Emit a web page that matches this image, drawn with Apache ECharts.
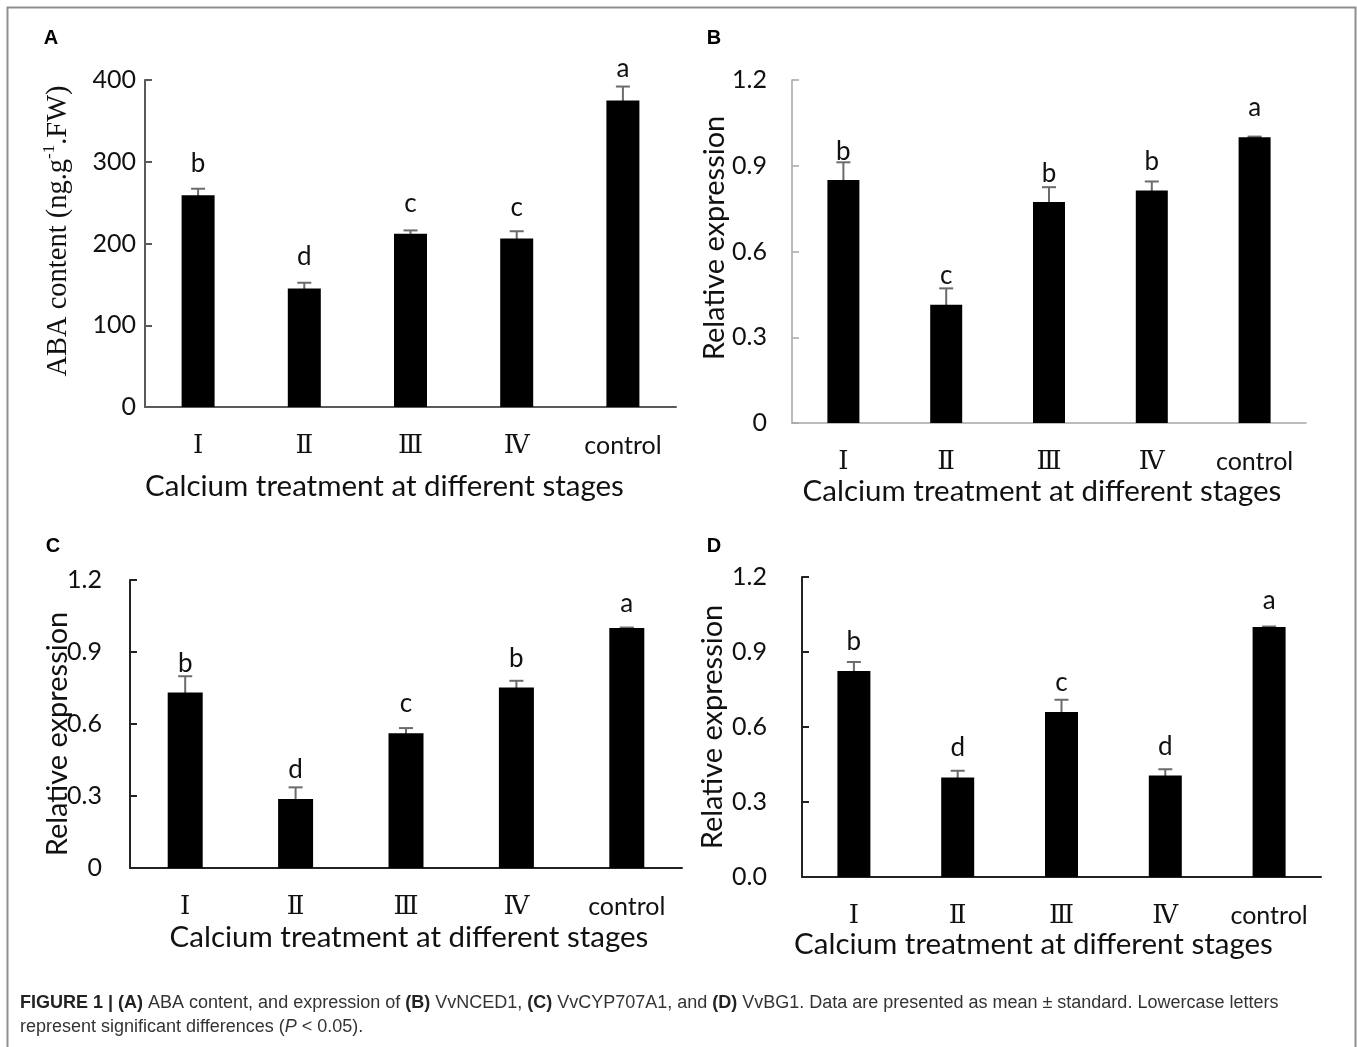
<!DOCTYPE html>
<html><head><meta charset="utf-8">
<script src="https://cdn.jsdelivr.net/npm/echarts@6/dist/echarts.min.js"></script>
<style>html,body{margin:0;padding:0;background:#fff}#c{width:1357px;height:1047px}</style>
</head><body><div id="c"></div>
<script>
// ---------- data ----------
const categories = ['Ⅰ', 'Ⅱ', 'Ⅲ', 'Ⅳ', 'control'];
const abaValues = [259, 145, 212, 206, 375];
const abaErrors = [8, 7, 4, 9, 17];
const abaLetters = ['b', 'd', 'c', 'c', 'a'];
const ncedValues = [0.850, 0.414, 0.773, 0.813, 1.0];
const ncedErrors = [0.062, 0.057, 0.052, 0.032, 0.002];
const ncedLetters = ['b', 'c', 'b', 'b', 'a'];
const cypValues = [0.731, 0.288, 0.561, 0.752, 1.0];
const cypErrors = [0.068, 0.048, 0.022, 0.028, 0.002];
const cypLetters = ['b', 'd', 'c', 'b', 'a'];
const bgValues = [0.824, 0.398, 0.660, 0.406, 1.0];
const bgErrors = [0.036, 0.027, 0.049, 0.025, 0.002];
const bgLetters = ['b', 'd', 'c', 'd', 'a'];
const abaTickLabels = ['0', '100', '200', '300', '400'];
const exprTickLabels = ['0', '0.3', '0.6', '0.9', '1.2'];
const exprTickLabelsD = ['0.0', '0.3', '0.6', '0.9', '1.2'];
const xTitle = 'Calcium treatment at different stages';
const abaTitle = 'ABA content';
const exprTitle = 'Relative expression';

// ---------- layout / style ----------
const panels = [
  { key: 'A', values: abaValues, errors: abaErrors, letters: abaLetters, ticks: abaTickLabels,
    max: 400, interval: 100, grid: { left: 145, top: 80, width: 531, height: 327 },
    axisColor: '#5a5a5a', axisWidth: 2, barWidth: 33, letterOffsets: [25, 26, 27, 24, 18],
    yLabelMargin: 9, xNameGap: 64, xNameShift: 52, yTitlePos: [57, 231], labelPos: [51, 38] },
  { key: 'B', values: ncedValues, errors: ncedErrors, letters: ncedLetters, ticks: exprTickLabels,
    max: 1.2, interval: 0.3, grid: { left: 792, top: 80, width: 514, height: 343 },
    axisColor: '#a6a6a6', axisWidth: 1.5, barWidth: 32, letterOffsets: [11, 13, 14, 20, 29],
    yLabelMargin: 25, xNameGap: 53, xNameShift: 14, yTitlePos: [715, 238], labelPos: [714, 38] },
  { key: 'C', values: cypValues, errors: cypErrors, letters: cypLetters, ticks: exprTickLabels,
    max: 1.2, interval: 0.3, grid: { left: 130, top: 580, width: 552, height: 288 },
    axisColor: '#222', axisWidth: 2, barWidth: 35, letterOffsets: [13, 18, 24, 22, 24],
    yLabelMargin: 28, xNameGap: 54, xNameShift: -6, yTitlePos: [58, 734], labelPos: [53, 546] },
  { key: 'D', values: bgValues, errors: bgErrors, letters: bgLetters, ticks: exprTickLabelsD,
    max: 1.2, interval: 0.3, grid: { left: 802, top: 577, width: 519, height: 300 },
    axisColor: '#222', axisWidth: 2, barWidth: 33, letterOffsets: [20, 23, 17, 23, 26],
    yLabelMargin: 35, xNameGap: 52, xNameShift: 56, yTitlePos: [713, 727], labelPos: [714, 546] }
];

const SANS = 'Lato, "Open Sans", sans-serif';
const ROMAN = '"DejaVu Serif", "Liberation Serif", serif';
const TXT = '#111';
const CAPFONT = '"Liberation Sans", Arial, sans-serif';

const grids = [], xAxes = [], yAxes = [], series = [], graphics = [];

panels.forEach((p, gi) => {
  grids.push(Object.assign({ containLabel: false }, p.grid));
  const sh = p.xNameShift;
  xAxes.push({
    gridIndex: gi, type: 'category', data: categories,
    axisLine: { lineStyle: { color: p.axisColor, width: p.axisWidth } },
    axisTick: { inside: true, length: 8, lineStyle: { color: p.axisColor, width: p.axisWidth } },
    axisLabel: {
      margin: 26, interval: 0,
      formatter: v => v === 'control' ? '{c|control}' : '{r|' + v + '}',
      rich: {
        c: { fontFamily: SANS, fontSize: 25, color: TXT },
        r: { fontFamily: ROMAN, fontSize: 26, color: TXT }
      }
    },
    name: xTitle, nameLocation: 'middle', nameGap: p.xNameGap,
    nameTextStyle: { fontFamily: SANS, fontSize: 29.5, color: TXT,
      padding: sh >= 0 ? [0, sh, 0, 0] : [0, 0, 0, -sh] }
  });
  yAxes.push({
    gridIndex: gi, type: 'value', min: 0, max: p.max, interval: p.interval,
    splitLine: { show: false },
    axisLine: { show: true, lineStyle: { color: p.axisColor, width: p.axisWidth } },
    axisTick: { show: true, inside: true, length: 7, lineStyle: { color: p.axisColor, width: p.axisWidth } },
    axisLabel: {
      margin: p.yLabelMargin, fontFamily: SANS, fontSize: 25, color: TXT,
      formatter: v => p.ticks[Math.round(v / p.interval)]
    }
  });
  series.push({
    type: 'bar', xAxisIndex: gi, yAxisIndex: gi, data: p.values,
    barWidth: p.barWidth, itemStyle: { color: '#000' }, silent: true, animation: false
  });
  series.push({
    type: 'custom', xAxisIndex: gi, yAxisIndex: gi, animation: false, silent: true,
    data: p.values.map((v, i) => [i, v, p.errors[i]]),
    renderItem: (params, api) => {
      const i = api.value(0), v = api.value(1), e = api.value(2);
      const top = api.coord([i, v + e]);
      const bot = api.coord([i, v - e]);
      const cap = 7;
      const ls = { stroke: '#6b6b6b', lineWidth: 2 };
      return {
        type: 'group', children: [
          { type: 'line', shape: { x1: top[0], y1: top[1], x2: bot[0], y2: bot[1] }, style: ls },
          { type: 'line', shape: { x1: top[0] - cap, y1: top[1], x2: top[0] + cap, y2: top[1] }, style: ls },
          { type: 'line', shape: { x1: bot[0] - cap, y1: bot[1], x2: bot[0] + cap, y2: bot[1] }, style: ls },
          { type: 'text', style: { text: p.letters[i], x: top[0], y: top[1] - p.letterOffsets[i],
            align: 'center', verticalAlign: 'middle', fontFamily: SANS, fontSize: 26, fill: TXT } }
        ]
      };
    }
  });
  // y-axis title
  const yText = p.key === 'A'
    ? { text: '{a|' + abaTitle + ' (ng.g}{s|-1}{a|.FW)}',
        rich: { a: { fontFamily: '"Liberation Serif", "DejaVu Serif", serif', fontSize: 28.5, fill: TXT, verticalAlign: 'bottom', lineHeight: 32 },
                s: { fontFamily: '"Liberation Serif", serif', fontSize: 17, fill: TXT, verticalAlign: 'top', lineHeight: 32 } } }
    : { text: exprTitle, fontFamily: SANS, fontSize: 29, fill: TXT };
  graphics.push({
    type: 'text', x: p.yTitlePos[0], y: p.yTitlePos[1], rotation: Math.PI / 2, silent: true,
    style: Object.assign({ align: 'center', verticalAlign: 'middle' }, yText)
  });
  graphics.push({
    type: 'text', x: p.labelPos[0], y: p.labelPos[1], silent: true,
    style: { text: p.key, fontFamily: CAPFONT, fontWeight: 'bold',
      fontSize: 20, fill: '#000', align: 'center', verticalAlign: 'middle' }
  });
});

// figure border
graphics.push({ type: 'rect', silent: true, shape: { x: 7.5, y: 7.5, width: 1348, height: 1100 },
  style: { fill: 'none', stroke: '#8f8f8f', lineWidth: 2 } });
// caption
graphics.push({
  type: 'text', x: 20, y: 991, silent: true,
  style: {
    text: '{b|FIGURE 1 | (A)} ABA content, and expression of {b|(B)} VvNCED1, {b|(C)} VvCYP707A1, and {b|(D)} VvBG1. Data are presented as mean ± standard. Lowercase letters\nrepresent significant differences ({i|P} < 0.05).',
    fontFamily: CAPFONT, fontSize: 18, fill: '#333', lineHeight: 24,
    rich: {
      b: { fontFamily: CAPFONT, fontWeight: 'bold', fontSize: 18, fill: '#222', lineHeight: 24 },
      i: { fontFamily: CAPFONT, fontStyle: 'italic', fontSize: 18, fill: '#333', lineHeight: 24 }
    }
  }
});

const chart = echarts.init(document.getElementById('c'), null, { renderer: 'canvas' });
chart.setOption({
  animation: false, backgroundColor: '#fff',
  grid: grids, xAxis: xAxes, yAxis: yAxes, series: series, graphic: graphics
});
</script>
</body></html>
